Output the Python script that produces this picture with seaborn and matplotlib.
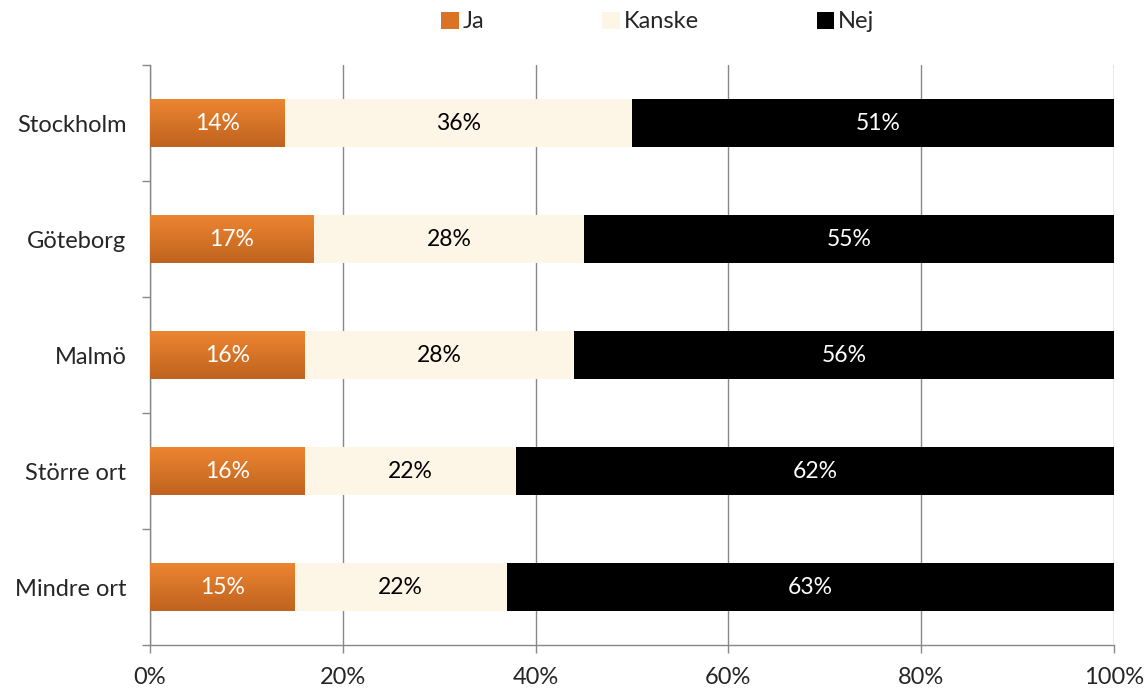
import numpy as np
import pandas as pd
import matplotlib
matplotlib.use("Agg")
import matplotlib.pyplot as plt
import seaborn as sns
from matplotlib.colors import LinearSegmentedColormap
from matplotlib.patches import Patch

categories = ["Stockholm", "Göteborg", "Malmö", "Större ort", "Mindre ort"]
ja = [14, 17, 16, 16, 15]
kanske = [36, 28, 28, 22, 22]
nej = [51, 55, 56, 62, 63]
series_names = ["Ja", "Kanske", "Nej"]
xtick_labels = ["0%", "20%", "40%", "60%", "80%", "100%"]

col_ja = "#DB7325"
col_kanske = "#FDF6E6"
col_nej = "#000000"

sns.set_theme(style="white")
plt.rcParams["font.family"] = ["Lato", "DejaVu Sans"]

df = pd.DataFrame({"cat": categories,
                   "ja": np.array(ja) / 100,
                   "kanske": np.array(kanske) / 100,
                   "nej": np.array(nej) / 100})
df["c2"] = df["ja"] + df["kanske"]
df["c3"] = df["c2"] + df["nej"]

fig = plt.figure(figsize=(11.46, 6.89), dpi=100)
ax = fig.add_axes([150 / 1146, 1 - 645 / 689, (1114 - 150) / 1146, (645 - 65) / 689])

bw = 0.41
sns.barplot(data=df, y="cat", x="c3", color=col_nej, orient="h", width=bw,
            ax=ax, saturation=1, linewidth=0, zorder=3)
sns.barplot(data=df, y="cat", x="c2", color=col_kanske, orient="h", width=bw,
            ax=ax, saturation=1, linewidth=0, zorder=3)
sns.barplot(data=df, y="cat", x="ja", color=col_ja, orient="h", width=bw,
            ax=ax, saturation=1, linewidth=0, zorder=3)

# gradient on Ja bars
cmap = LinearSegmentedColormap.from_list("ja", ["#EC8530", "#C0631F"])
grad = np.linspace(0, 1, 64).reshape(-1, 1)
n = len(categories)
ja_patches = ax.patches[2 * n:3 * n]
for p in ja_patches:
    x0, y0 = p.get_x(), p.get_y()
    w, h = p.get_width(), p.get_height()
    im = ax.imshow(grad, cmap=cmap, aspect="auto", extent=[x0, x0 + w, y0 + h, y0],
                   zorder=3.5, origin="upper")
    im.set_clip_path(p)

ax.set_xlim(0, 1)
ax.set_ylim(n - 0.5, -0.5)

# labels
fs = 16.5
for i in range(n):
    a = df["ja"][i]; b = df["kanske"][i]; c = df["nej"][i]
    ax.text(a / 2, i, f"{ja[i]}%", ha="center", va="center", color="white", fontsize=fs, zorder=5)
    ax.text(a + b / 2, i, f"{kanske[i]}%", ha="center", va="center", color="black", fontsize=fs, zorder=5)
    ax.text(a + b + c / 2, i, f"{nej[i]}%", ha="center", va="center", color="white", fontsize=fs, zorder=5)

tfs = 17
ax.set_xticks(np.linspace(0, 1, 6))
ax.set_xticklabels(xtick_labels, fontsize=tfs)
ax.set_yticks(range(n))
ax.set_yticklabels(categories, fontsize=tfs)
ax.set_yticks(np.arange(-0.5, n, 1), minor=True)
ax.tick_params(axis="y", which="major", length=0, pad=17)
ax.tick_params(axis="y", which="minor", length=6, color="#888888", width=1, direction="out", left=True)
ax.tick_params(axis="x", which="major", length=6, color="#888888", width=1, direction="out", bottom=True, pad=10)
ax.set_xlabel("")
ax.set_ylabel("")
ax.xaxis.grid(True, color="#888888", linewidth=1, zorder=0)
ax.set_axisbelow(True)
for s in ["top", "right"]:
    ax.spines[s].set_visible(False)
for s in ["left", "bottom"]:
    ax.spines[s].set_color("#888888")
    ax.spines[s].set_linewidth(1)

handles = [Patch(facecolor=col_ja, edgecolor="none"),
           Patch(facecolor=col_kanske, edgecolor="none"),
           Patch(facecolor=col_nej, edgecolor="none")]
fig.legend(handles, series_names, loc="center", bbox_to_anchor=(0.574, 1 - 22 / 689), ncol=3,
           frameon=False, fontsize=tfs, handlelength=0.75, handleheight=0.75,
           handletextpad=0.15, columnspacing=5.0)

fig.savefig("out.png", dpi=100)
